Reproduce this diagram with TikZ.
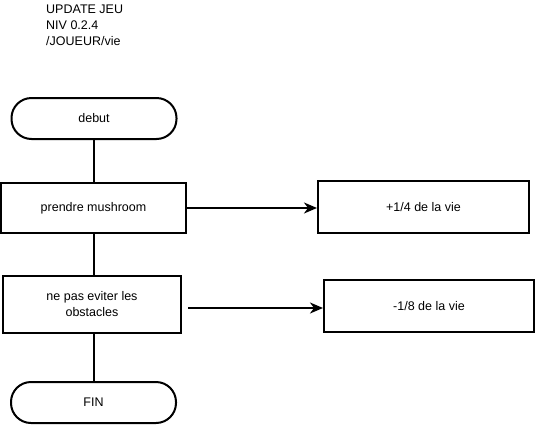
\documentclass[tikz,border=0pt]{standalone}
\usepackage{fontspec}
\setmainfont{Liberation Sans}
\usetikzlibrary{arrows.meta,positioning}
\begin{document}
\begin{tikzpicture}[x=1pt,y=-1pt,
  every node/.style={font=\fontsize{12.5pt}{16pt}\selectfont, text=black},
  box/.style={draw=black, line width=2pt, rectangle, inner sep=0pt, align=center},
  term/.style={draw=black, line width=2pt, rectangle, rounded corners=20pt, inner sep=0pt, align=center},
  link/.style={draw=black, line width=2pt},
  arr/.style={draw=black, line width=2pt, -{Stealth[length=13pt,width=11pt,inset=4pt]}}]
\useasboundingbox (0,0) rectangle (538,426);
\node[anchor=north west, align=left, inner sep=0pt] (title) at (46,4.5) {UPDATE JEU\\NIV 0.2.4\\/JOUEUR/vie};
\node[term, minimum width=165pt, minimum height=41pt] (debut) at (94,118.5) {debut};
\node[box, minimum width=185pt, minimum height=50pt] (prendre) at (93.5,208) {prendre mushroom};
\node[box, minimum width=211pt, minimum height=52pt] (plus) at (423.5,207) {+1/4 de la vie};
\node[box, minimum width=178pt, minimum height=57pt] (nepas) at (92,304.5) {ne pas eviter les\\obstacles};
\node[box, minimum width=210pt, minimum height=52pt] (moins) at (429,306) {-1/8 de la vie};
\node[term, minimum width=165pt, minimum height=41pt] (fin) at (93.5,402.5) {FIN};
\draw[link] (debut.south) -- (debut.south |- prendre.north);
\draw[link] (prendre.south -| debut.south) -- (nepas.north -| debut.south);
\draw[link] (nepas.south -| fin.north) -- (fin.north);
\draw[arr] (prendre.east) -- (plus.west |- prendre.east);
\coordinate (nstart) at ([xshift=6pt,yshift=-3.5pt]nepas.east);
\draw[arr] (nstart) -- (moins.west |- nstart);
\end{tikzpicture}
\end{document}
